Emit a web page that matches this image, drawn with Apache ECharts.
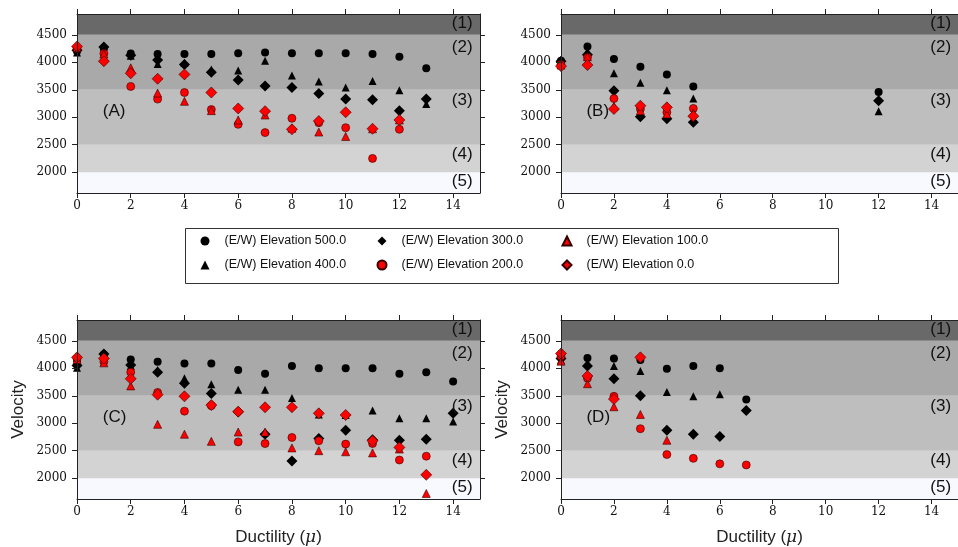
<!DOCTYPE html>
<html>
<head>
<meta charset="utf-8">
<script src="https://cdn.jsdelivr.net/npm/echarts@6/dist/echarts.min.js"></script>
<style>
  html, body { margin: 0; padding: 0; background: #fff; }
  #chart { width: 958px; height: 547px; }
</style>
</head>
<body>
<div id="chart"></div>
<script>
  // ductility steps on the x axis
  const ductility = [0, 1, 2, 3, 4, 5, 6, 7, 8, 9, 10, 11, 12, 13, 14];
  const xTicks = [0, 2, 4, 6, 8, 10, 12, 14];
  const yTicks = [2000, 2500, 3000, 3500, 4000, 4500];
  const yLimits = [1620, 4880];
  const bandEdges = [1620, 2000, 2500, 3500, 4500, 4880];
  const bandColors = ['#f8f8ff', '#d3d3d3', '#bebebe', '#a9a9a9', '#696969'];
  const bandLabels = ['(5)', '(4)', '(3)', '(2)', '(1)'];
  const bandLabelY = [1840, 2333, 3316, 4281, 4718];
  const panelLabels = ['(A)', '(B)', '(C)', '(D)'];
  const elevations = ['500.0', '400.0', '300.0', '200.0', '100.0', '0.0'];

  // panel A
  const a500 = [4200, 4250, 4160, 4150, 4150, 4150, 4165, 4180, 4165, 4165, 4165, 4150, 4100, 3890];
  const a400 = [4180, 4230, 4120, 3970, 3990, 3870, 3850, 4030, 3760, 3650, 3540, 3660, 3490, 3240];
  const a300 = [4220, 4280, 4130, 4040, 3960, 3820, 3680, 3570, 3540, 3430, 3330, 3320, 3120, 3330];
  const a200 = [4250, 4160, 3560, 3330, 3450, 3140, 2870, 2720, 2980, 2900, 2810, 2250, 2780];
  const a100 = [4270, 4150, 3900, 3440, 3290, 3120, 2950, 3040, 2800, 2730, 2650, 2790, 2950];
  const a0   = [4290, 4020, 3800, 3700, 3780, 3450, 3160, 3110, 2780, 2930, 3090, 2790, 2950];
  // panel B
  const b500 = [4030, 4290, 4060, 3920, 3780, 3560, null, null, null, null, null, null, 3460];
  const b400 = [4020, 4200, 3800, 3630, 3490, 3340, null, null, null, null, null, null, 3110];
  const b300 = [4020, 4140, 3480, 3010, 2970, 2910, null, null, null, null, null, null, 3300];
  const b200 = [3960, 4090, 3340, 3150, 3090, 3160];
  const b100 = [3950, 4100, 3200, 3120, 3060, 3080];
  const b0   = [3930, 3950, 3150, 3210, 3180, 3020];
  // panel C
  const c500 = [4150, 4250, 4160, 4120, 4090, 4090, 3970, 3900, 4040, 4000, 4000, 4000, 3900, 3930, 3760];
  const c400 = [4010, 4220, 4040, 3970, 3820, 3710, 3610, 3610, 3460, 3160, 3150, 3230, 3090, 3090, 3030];
  const c300 = [4050, 4260, 4060, 3930, 3730, 3540, 3210, 2800, 2310, 2720, 2870, 2700, 2690, 2710, 3180];
  const c200 = [4170, 4120, 3930, 3560, 3220, 3320, 2660, 2630, 2740, 2680, 2620, 2630, 2330, 2400];
  const c100 = [4160, 4100, 3680, 2980, 2800, 2670, 2840, 2840, 2550, 2500, 2480, 2460, 2530, 1720];
  const c0   = [4200, 4180, 3810, 3520, 3490, 3330, 3210, 3290, 3290, 3180, 3150, 2680, 2560, 2060];
  // panel D
  const d500 = [4200, 4190, 4180, 4150, 3990, 4040, 4000, 3430];
  const d400 = [4150, 4100, 4040, 3950, 3570, 3490, 3530];
  const d300 = [4180, 4040, 3810, 3500, 2870, 2800, 2760, 3230];
  const d200 = [4220, 3820, 3490, 2900, 2430, 2360, 2260, 2240];
  const d100 = [4130, 3720, 3300, 3160, 2690];
  const d0   = [4270, 3860, 3440, 4200];

  const panels = [
    [a500, a400, a300, a200, a100, a0],
    [b500, b400, b300, b200, b100, b0],
    [c500, c400, c300, c200, c100, c0],
    [d500, d400, d300, d200, d100, d0]
  ];

  const markers = [
    { symbol: 'circle', size: 8, color: '#000' },
    { symbol: 'triangle', size: 8, color: '#000' },
    { symbol: 'diamond', size: 11, color: '#000' },
    { symbol: 'circle', size: 8, color: '#ff0000' },
    { symbol: 'triangle', size: 8, color: '#ff0000' },
    { symbol: 'diamond', size: 11, color: '#ff0000' }
  ];

  const grids = [
    { left: 77, top: 14, width: 403, height: 179 },
    { left: 561, top: 14, width: 403, height: 179 },
    { left: 77, top: 320, width: 403, height: 179 },
    { left: 561, top: 320, width: 403, height: 179 }
  ];

  const lineCol = '#222';
  const sans = 'Liberation Sans';
  const tickFont = { fontFamily: 'DejaVu Serif', fontSize: 12, color: '#111' };

  function seriesName(i) {
    return '(E/W) Elevation ' + elevations[i];
  }

  let xAxes = [];
  let yAxes = [];
  let series = [];

  grids.forEach(function (g, p) {
    let bottomRow = p >= 2;
    xAxes.push({
      gridIndex: p, type: 'value', min: 0, max: 15, position: 'bottom', z: 10,
      axisLine: { show: true, onZero: false, lineStyle: { color: lineCol } },
      axisTick: { show: true, length: 5, customValues: xTicks, lineStyle: { color: lineCol } },
      axisLabel: Object.assign({ customValues: xTicks, margin: 7, formatter: function (v) { return String(v); } }, tickFont),
      splitLine: { show: false },
      name: bottomRow ? 'Ductility ({mu|μ})' : '',
      nameLocation: 'middle', nameGap: 30,
      nameTextStyle: {
        fontFamily: sans, fontSize: 17, color: '#222',
        rich: { mu: { fontFamily: 'DejaVu Serif', fontStyle: 'italic', fontSize: 17, color: '#222' } }
      }
    });
    xAxes.push({
      gridIndex: p, type: 'value', min: 0, max: 15, position: 'top', z: 10,
      axisLine: { show: true, onZero: false, lineStyle: { color: lineCol } },
      axisTick: { show: true, length: 5, customValues: xTicks, lineStyle: { color: lineCol } },
      axisLabel: { show: false },
      splitLine: { show: false }
    });
    yAxes.push({
      gridIndex: p, type: 'value', min: yLimits[0], max: yLimits[1], position: 'left', z: 10,
      axisLine: { show: true, onZero: false, lineStyle: { color: lineCol } },
      axisTick: { show: true, length: 5, customValues: yTicks, lineStyle: { color: lineCol } },
      axisLabel: Object.assign({ customValues: yTicks, margin: 10, formatter: function (v) { return String(v); } }, tickFont),
      splitLine: { show: false },
      name: bottomRow ? 'Velocity' : '',
      nameLocation: 'middle', nameGap: 50,
      nameTextStyle: { fontFamily: sans, fontSize: 17, color: '#222' }
    });
    yAxes.push({
      gridIndex: p, type: 'value', min: yLimits[0], max: yLimits[1], position: 'right', z: 10,
      axisLine: { show: true, onZero: false, lineStyle: { color: lineCol } },
      axisTick: { show: true, length: 5, customValues: yTicks, lineStyle: { color: lineCol } },
      axisLabel: { show: false },
      splitLine: { show: false }
    });

    // shaded bands
    series.push({
      type: 'scatter', name: 'bands' + p, xAxisIndex: p * 2, yAxisIndex: p * 2,
      silent: true, z: 0, data: [],
      markArea: {
        silent: true,
        data: bandColors.map(function (c, k) {
          return [
            { yAxis: bandEdges[k], itemStyle: { color: c, opacity: 1 } },
            { yAxis: bandEdges[k + 1] }
          ];
        })
      }
    });

    // band and panel labels
    let notes = bandLabels.map(function (t, k) {
      return { name: t, value: [13.95, bandLabelY[k]] };
    });
    notes.push({ name: panelLabels[p], value: [0.96, 3100] });
    series.push({
      type: 'scatter', name: 'notes' + p, xAxisIndex: p * 2, yAxisIndex: p * 2,
      silent: true, z: 4, symbolSize: 0.1,
      itemStyle: { color: 'rgba(0,0,0,0)' },
      label: {
        show: true, position: 'right', distance: 0, formatter: '{b}',
        fontFamily: sans, fontSize: 17, color: '#111', opacity: 1
      },
      data: notes
    });

    panels[p].forEach(function (vals, i) {
      let m = markers[i];
      let pts = [];
      vals.forEach(function (v, k) {
        if (v != null) pts.push([ductility[k], v]);
      });
      series.push({
        type: 'scatter', name: seriesName(i),
        xAxisIndex: p * 2, yAxisIndex: p * 2, z: 3,
        symbol: m.symbol, symbolSize: m.size,
        itemStyle: {
          color: m.color, opacity: 1,
          borderColor: m.color === '#000' ? '#000' : '#300',
          borderWidth: m.color === '#000' ? 0 : 0.6
        },
        data: pts
      });
    });
  });

  function legendCol(center, a, b) {
    return {
      orient: 'vertical', left: center - 4.5, top: 233, padding: 0,
      itemWidth: 9, itemHeight: 9, itemGap: 8,
      selectedMode: false,
      textStyle: { fontFamily: sans, fontSize: 12.5, color: '#111', lineHeight: 16, padding: [0, 0, 0, 10] },
      data: [
        { name: seriesName(a), icon: markers[a].symbol },
        { name: seriesName(b), icon: markers[b].symbol }
      ]
    };
  }

  let chart = echarts.init(document.getElementById('chart'));
  let option = {
    animation: false,
    backgroundColor: '#fff',
    grid: grids,
    xAxis: xAxes,
    yAxis: yAxes,
    legend: [legendCol(205, 0, 1), legendCol(381, 2, 3), legendCol(566, 4, 5)],
    graphic: [{
      type: 'rect', left: 185, top: 228, z: 0,
      shape: { width: 653, height: 55 },
      style: { fill: '#fff', stroke: '#333', lineWidth: 1 }
    }],
    series: series
  };
  option && chart.setOption(option);
</script>
</body>
</html>
